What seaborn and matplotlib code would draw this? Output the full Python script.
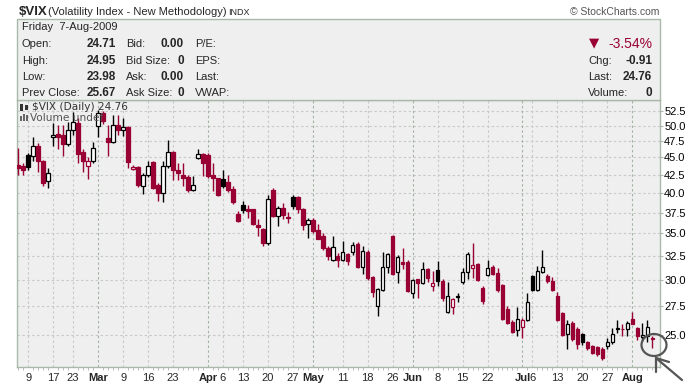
import numpy as np
import pandas as pd
import matplotlib
matplotlib.use('Agg')
import matplotlib.pyplot as plt
import seaborn as sns
from matplotlib.patches import Rectangle, Ellipse

# trading days Feb 5 - Aug 7, 2009
holidays = ['2009-02-16', '2009-04-10', '2009-05-25', '2009-07-03']
dates = pd.bdate_range('2009-02-05', '2009-08-07')
dates = dates[~dates.isin(pd.to_datetime(holidays))]

opens = [43.9, 43.8, 45.4, 45.2, 46.7, 44.4, 41.6, 48.1, 48.6, 48.4,
         47.0, 49.2, 50.4, 45.8, 43.8, 44.5, 50.0, 52.1, 47.9, 47.4,
         50.1, 49.2, 49.8, 43.3, 43.6, 40.9, 42.4, 44.3, 41.1, 40.0,
         43.7, 45.8, 43.2, 42.4, 42.2, 40.4, 44.9, 45.5, 45.4, 42.4,
         42.0, 41.9, 41.5, 40.5, 37.3, 38.4, 38.0, 37.9, 36.0, 35.5,
         33.9, 40.4, 37.1, 38.1, 36.9, 39.5, 39.5, 38.0, 36.1, 36.6,
         35.4, 34.7, 33.4, 32.0, 32.5, 32.1, 32.7, 32.9, 33.75, 31.3,
         32.9, 30.3, 27.5, 29.0, 31.3, 34.7, 30.8, 31.8, 31.8, 28.7,
         30.1, 29.7, 31.1, 29.4, 31.0, 29.9, 27.0, 27.4, 28.45, 29.8,
         30.8, 31.2, 31.6, 29.2, 30.5, 31.3, 30.7, 29.5, 27.3, 26.1,
         25.4, 25.7, 26.3, 30.4, 29.0, 30.8, 30.4, 29.9, 28.5, 26.9,
         25.1, 26.0, 25.5, 25.1, 24.4, 24.1, 24.0, 23.9, 24.1, 24.4,
         25.5, 25.55, 25.5, 26.4, 25.6, 24.85, 24.95, 24.71]
highs = [46.4, 44.1, 45.7, 48.1, 47.2, 44.6, 43.5, 50.4, 50.1, 50.1,
         50.5, 52.3, 51.2, 46.2, 45.1, 47.4, 52.7, 52.4, 50.1, 51.8,
         51.8, 51.2, 50.0, 43.9, 43.8, 42.7, 44.4, 44.5, 41.3, 44.4,
         47.7, 46.0, 44.2, 44.1, 42.4, 42.3, 46.3, 45.6, 45.7, 44.1,
         42.1, 43.1, 42.5, 40.9, 37.7, 39.0, 38.5, 38.0, 36.7, 35.6,
         39.7, 40.6, 38.3, 38.7, 37.6, 39.7, 39.6, 38.1, 36.8, 36.8,
         36.1, 35.0, 33.6, 34.7, 32.8, 34.1, 32.8, 34.0, 34.0, 33.6,
         33.1, 30.4, 29.2, 32.9, 32.8, 34.8, 32.6, 33.3, 32.0, 30.1,
         30.1, 31.8, 31.2, 30.9, 31.9, 30.1, 29.8, 28.3, 28.7, 31.2,
         32.9, 33.9, 31.7, 29.4, 32.1, 31.5, 31.2, 29.6, 27.5, 26.3,
         27.4, 26.5, 28.7, 30.5, 31.4, 33.1, 30.6, 30.3, 28.8, 27.0,
         26.3, 26.2, 25.7, 25.2, 24.5, 24.2, 24.1, 24.0, 24.8, 25.6,
         26.3, 25.9, 26.2, 27.0, 25.7, 26.0, 26.3, 24.95]
lows = [42.4, 42.5, 43.1, 44.4, 42.9, 40.9, 40.7, 46.7, 46.2, 45.2,
        46.7, 48.5, 44.1, 42.9, 41.9, 44.1, 48.1, 50.3, 45.2, 47.2,
        48.5, 48.3, 43.5, 43.1, 40.8, 39.9, 42.2, 40.5, 38.9, 38.8,
        43.5, 41.8, 41.8, 40.9, 40.1, 40.2, 44.8, 42.3, 42.1, 40.2,
        39.6, 40.7, 40.1, 38.6, 36.4, 37.4, 36.8, 36.0, 34.7, 33.6,
        33.7, 36.9, 35.9, 36.7, 36.2, 37.9, 37.4, 35.4, 34.5, 35.1,
        34.3, 33.1, 32.1, 31.9, 31.3, 31.9, 31.5, 32.6, 31.2, 30.6,
        30.0, 28.4, 26.6, 28.9, 30.7, 30.5, 29.7, 31.1, 28.8, 28.3,
        28.3, 29.6, 29.8, 28.9, 29.4, 28.0, 26.9, 26.8, 27.9, 29.6,
        30.1, 30.2, 29.9, 27.7, 30.4, 30.5, 28.8, 26.3, 25.9, 25.2,
        24.95, 24.8, 26.2, 28.9, 28.9, 30.7, 29.7, 28.9, 26.2, 24.9,
        23.9, 24.5, 23.9, 24.2, 23.8, 23.5, 23.3, 23.0, 23.9, 24.3,
        25.2, 24.9, 24.9, 25.9, 24.6, 24.5, 24.4, 23.98]
closes = [43.5, 43.2, 43.6, 46.7, 44.4, 41.3, 42.8, 48.5, 48.2, 47.0,
          49.3, 50.6, 45.5, 44.5, 44.4, 46.4, 52.1, 50.8, 47.4, 50.1,
          49.2, 49.8, 44.3, 43.6, 41.1, 42.4, 43.7, 40.7, 40.0, 43.8,
          45.8, 43.1, 42.8, 42.1, 40.4, 41.1, 45.5, 44.1, 42.3, 42.0,
          39.7, 40.9, 40.4, 38.8, 36.5, 37.8, 37.7, 36.1, 35.7, 33.9,
          39.2, 37.1, 38.1, 37.2, 36.8, 38.3, 38.0, 36.0, 36.6, 35.3,
          34.4, 33.3, 32.5, 33.5, 32.1, 32.9, 31.9, 33.7, 31.3, 33.0,
          30.2, 28.8, 29.1, 31.3, 32.7, 30.6, 32.4, 31.6, 28.9, 30.0,
          29.7, 31.1, 30.2, 29.7, 29.9, 28.25, 28.5, 28.2, 28.35, 30.8,
          32.7, 31.5, 30.0, 28.0, 31.2, 30.6, 29.0, 26.4, 26.0, 25.3,
          26.4, 26.3, 27.9, 29.0, 30.9, 31.3, 29.9, 29.0, 26.3, 25.0,
          25.9, 24.7, 24.3, 24.45, 23.96, 23.6, 23.5, 23.2, 24.4, 25.1,
          25.6, 25.5, 26.0, 25.95, 24.9, 25.0, 25.67, 24.76]
first_prev_close = 44.0

y_ticks = [25.0, 27.5, 30.0, 32.5, 35.0, 37.5, 40.0, 42.5, 45.0, 47.5, 50.0, 52.5]
tick_dates = ['2009-02-09', '2009-02-17', '2009-02-23', '2009-03-02', '2009-03-09',
              '2009-03-16', '2009-03-23', '2009-04-01', '2009-04-06', '2009-04-13',
              '2009-04-20', '2009-04-27', '2009-05-01', '2009-05-11', '2009-05-18',
              '2009-05-26', '2009-06-01', '2009-06-08', '2009-06-15', '2009-06-22',
              '2009-07-01', '2009-07-06', '2009-07-13', '2009-07-20', '2009-07-27',
              '2009-08-03']
tick_labels = ['9', '17', '23', 'Mar', '9', '16', '23', 'Apr', '6', '13', '20', '27',
               'May', '11', '18', '26', 'Jun', '8', '15', '22', 'Jul', '6', '13', '20',
               '27', 'Aug']

RED = '#990033'
GRID = '#c9c9c9'
MONTH_GRID = '#a3b3a3'
FRAME = '#a9b9a9'

sns.set_style('white')
plt.rcParams['font.family'] = ['Liberation Sans', 'DejaVu Sans']

W, H = 700, 385
def fx(x):
    return x / W
def fy(y):
    return 1 - y / H

fig = plt.figure(figsize=(7, 3.85), dpi=100)

# quote box
fig.patches.append(Rectangle((fx(17), fy(100)), (660 - 17) / W, 81 / H,
                             transform=fig.transFigure, facecolor='#efefef',
                             edgecolor=FRAME, lw=1, zorder=0))

ax = fig.add_axes([fx(17), fy(367), (660 - 17) / W, 267 / H])
ax.set_facecolor('#efefef')

o = np.array(opens)
h = np.array(highs)
l = np.array(lows)
c = np.array(closes)
x = np.arange(len(c))
prev = np.r_[first_prev_close, c[:-1]]
cols = np.where(c < prev, RED, 'black')
hollow = c > o

ax.vlines(x, l, h, colors=cols, lw=1, zorder=3)
ax.bar(x, np.maximum(np.abs(c - o), 0.02), bottom=np.minimum(o, c), width=0.7,
       color=np.where(hollow, 'white', cols), edgecolor=cols, linewidth=0.9, zorder=4)

ax.set_yscale('log')
ax.set_ylim(22.5, 54.4)
ax.set_xlim(-0.25, 128.55)

# grid
for v in y_ticks:
    ax.axhline(v, color=GRID, lw=0.8, dashes=(2.2, 2.2), zorder=1)
tick_pos = [dates.get_loc(pd.Timestamp(d)) for d in tick_dates]
for p, lab in zip(tick_pos, tick_labels):
    month = not lab.isdigit()
    ax.axvline(p, color=MONTH_GRID if month else GRID, lw=0.8, dashes=(2.2, 2.2), zorder=1)

ax.yaxis.tick_right()
ax.set_yticks(y_ticks)
ax.set_yticklabels([f'{v:.1f}' for v in y_ticks])
ax.minorticks_off()
ax.tick_params(axis='y', right=True, length=2, pad=1, labelsize=8, color=FRAME, labelcolor='black')
ax.set_xticks(tick_pos)
ax.set_xticklabels(tick_labels)
for t, lab in zip(ax.get_xticklabels(), tick_labels):
    if not lab.isdigit():
        t.set_fontweight('bold')
        t.set_fontsize(8.5)
ax.tick_params(axis='x', length=0, pad=4, labelsize=8)
ax.set_xticks(x, minor=True)
ax.tick_params(axis='x', which='minor', length=2, color='#b0b0b0', bottom=True)
for s in ax.spines.values():
    s.set_color(FRAME)
    s.set_linewidth(1)

# header
fig.text(fx(19), fy(12), r'\$VIX', fontsize=9.5, weight='bold', va='center')
fig.text(fx(48), fy(12), '(Volatility Index - New Methodology)', fontsize=8, va='center')
fig.text(fx(228), fy(12.5), 'INDX', fontsize=6.5, va='center')
fig.text(fx(659), fy(12), '\u00a9 StockCharts.com', fontsize=7.5, color='#555555',
         va='center', ha='right')

# quote table
rows_y = [44, 61, 77, 93]
fig.text(fx(22), fy(27), 'Friday  7-Aug-2009', fontsize=8, va='center')
col1 = ['Open:', 'High:', 'Low:', 'Prev Close:']
col1_val = ['24.71', '24.95', '23.98', '25.67']
col2 = ['Bid:', 'Bid Size:', 'Ask:', 'Ask Size:']
col2_val = ['0.00', '0', '0.00', '0']
col3 = ['P/E:', 'EPS:', 'Last:', 'VWAP:']
for yy, a, av, b, bv, cc in zip(rows_y, col1, col1_val, col2, col2_val, col3):
    fig.text(fx(22), fy(yy), a, fontsize=8, va='center')
    fig.text(fx(116), fy(yy), av, fontsize=8.5, weight='bold', va='center', ha='right')
    fig.text(fx(126), fy(yy), b, fontsize=8, va='center')
    fig.text(fx(184), fy(yy), bv, fontsize=8.5, weight='bold', va='center', ha='right')
    fig.text(fx(195), fy(yy), cc, fontsize=8, va='center')

fig.text(fx(594), fy(43), '\u25bc', fontsize=9.5, color=RED, va='center', ha='center',
         family='DejaVu Sans')
fig.text(fx(652), fy(44), '-3.54%', fontsize=10, color=RED, va='center', ha='right')
right_lab = ['Chg:', 'Last:', 'Volume:']
right_val = ['-0.91', '24.76', '0']
for yy, a, av in zip(rows_y[1:], right_lab, right_val):
    fig.text(fx(588), fy(yy), a, fontsize=8, va='center')
    fig.text(fx(652), fy(yy), av, fontsize=8.5, weight='bold', va='center', ha='right')

# legend inside chart
fig.text(fx(32), fy(107.5), r'\$VIX (Daily) 24.76', fontsize=7.6, color='#333333',
         va='center', family='DejaVu Sans')
fig.text(fx(30), fy(118), 'Volume undef', fontsize=7.6, color='#555555',
         va='center', family='DejaVu Sans')
fig.patches.append(Rectangle((fx(20), fy(111)), 3 / W, 7 / H, transform=fig.transFigure,
                             facecolor='#333333', lw=0))
fig.patches.append(Rectangle((fx(25), fy(110)), 3 / W, 5 / H, transform=fig.transFigure,
                             facecolor='#333333', lw=0))
for bx, bh in zip([20, 23, 26], [5, 7, 6]):
    fig.patches.append(Rectangle((fx(bx), fy(121)), 2 / W, bh / H, transform=fig.transFigure,
                                 facecolor='#666666', lw=0))

# annotation: circle and arrow
fig.patches.append(Ellipse((fx(654), fy(345)), 25 / W, 22 / H, transform=fig.transFigure,
                           facecolor='none', edgecolor='#555555', lw=1.6))
fig.add_artist(plt.Line2D([fx(656), fx(682)], [fy(358), fy(380)], transform=fig.transFigure,
                          color='#555555', lw=1.6))
fig.add_artist(plt.Line2D([fx(656), fx(656)], [fy(358), fy(372)], transform=fig.transFigure,
                          color='#555555', lw=1.6))
fig.add_artist(plt.Line2D([fx(656), fx(669)], [fy(358), fy(362)], transform=fig.transFigure,
                          color='#555555', lw=1.6))

fig.savefig('out.png', dpi=100, facecolor='white')
